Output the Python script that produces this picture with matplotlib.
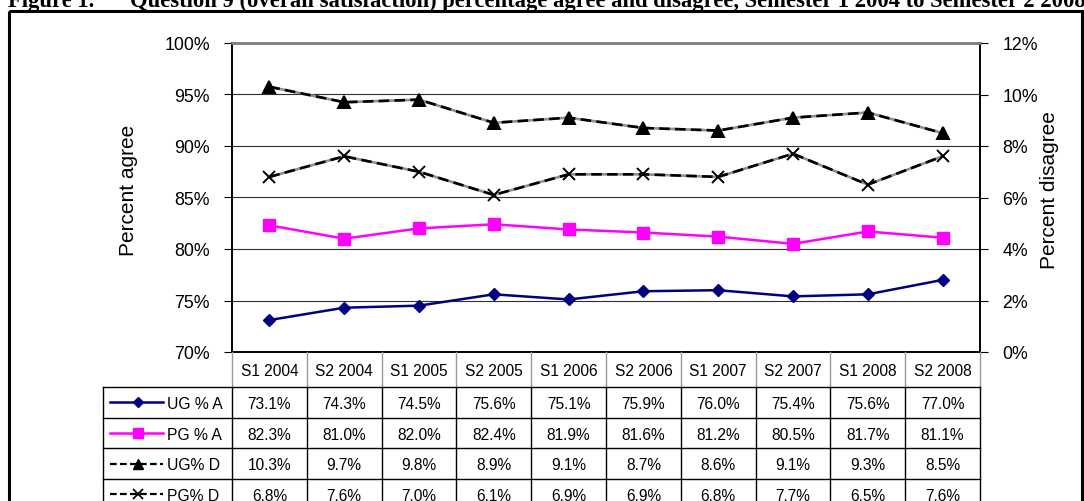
import numpy as np
import matplotlib.pyplot as plt
from matplotlib.patches import Rectangle

plt.rcParams['font.family'] = ['Liberation Sans', 'DejaVu Sans']

semesters = ['S1 2004', 'S2 2004', 'S1 2005', 'S2 2005', 'S1 2006',
             'S2 2006', 'S1 2007', 'S2 2007', 'S1 2008', 'S2 2008']
ug_agree = [73.1, 74.3, 74.5, 75.6, 75.1, 75.9, 76.0, 75.4, 75.6, 77.0]
pg_agree = [82.3, 81.0, 82.0, 82.4, 81.9, 81.6, 81.2, 80.5, 81.7, 81.1]
ug_disagree = [10.3, 9.7, 9.8, 8.9, 9.1, 8.7, 8.6, 9.1, 9.3, 8.5]
pg_disagree = [6.8, 7.6, 7.0, 6.1, 6.9, 6.9, 6.8, 7.7, 6.5, 7.6]
series_names = ['UG % A', 'PG % A', 'UG% D', 'PG% D']
left_ticks = [70, 75, 80, 85, 90, 95, 100]
right_ticks = [0, 2, 4, 6, 8, 10, 12]

W, H = 1084, 502
fig = plt.figure(figsize=(W / 100, H / 100), dpi=100)

# plot area in pixels
px0, px1, py0, py1 = 232, 980, 44, 353
ax = fig.add_axes([px0 / W, 1 - py1 / H, (px1 - px0) / W, (py1 - py0) / H])
ax2 = ax.twinx()

x = np.arange(len(semesters))
ax.plot(x, ug_agree, color='#000080', lw=1.8, marker='D', ms=6.5, zorder=5)
ax.plot(x, pg_agree, color='#FF00FF', lw=1.8, marker='s', ms=8.5, zorder=5)

for vals, mk, ms in [(ug_disagree, '^', 8.5), (pg_disagree, 'x', 8.5)]:
    ax2.plot(x, vals, color='#909090', lw=1.9, zorder=3)
    ax2.plot(x, vals, color='black', lw=1.9, ls=(0, (4, 2)), marker=mk, ms=ms,
             mew=1.4, zorder=4)

ax.set_xlim(-0.5, len(semesters) - 0.5)
ax.set_ylim(70, 100)
ax2.set_ylim(0, 12)
ax.set_yticks(left_ticks)
ax.set_yticklabels([f'{t}%' for t in left_ticks])
ax2.set_yticks(right_ticks)
ax2.set_yticklabels([f'{t}%' for t in right_ticks])
ax.set_xticks([])

ax.grid(axis='y', color='#303030', lw=0.8)
ax.set_axisbelow(True)
for a in (ax, ax2):
    a.tick_params(axis='y', labelsize=12.8, length=6, width=0.8, pad=10,
                  direction='out', colors='black')
    a.spines['top'].set_color('#808080')
    a.spines['top'].set_linewidth(1.8)
    a.spines['left'].set_linewidth(1.2)
    a.spines['right'].set_linewidth(1.2)
    a.spines['bottom'].set_linewidth(1.2)

ylab_y = (py1 - 190) / (py1 - py0)
ax.set_ylabel('Percent agree', fontsize=15)
ax.yaxis.set_label_coords((138 - px0) / (px1 - px0), ylab_y)
ax2.set_ylabel('Percent disagree', fontsize=15, rotation=90)
ax2.yaxis.set_label_coords((1040 - px0) / (px1 - px0), ylab_y)

# overlay in pixel coordinates for the data table, frame and title
ov = fig.add_axes([0, 0, 1, 1], facecolor='none')
ov.set_xlim(0, W)
ov.set_ylim(H, 0)
ov.axis('off')

ov.add_patch(Rectangle((9, 12), 1073, 504, fill=False, lw=2.2, ec='black',
                       clip_on=False))
ov.text(8, 7.5, 'Figure 1.', fontsize=16.3, fontweight='bold',
        family='Liberation Serif', va='baseline', ha='left')
ov.text(130, 7.5, 'Question 9 (overall satisfaction) percentage agree '
        'and disagree, Semester 1 2004 to Semester 2 2008',
        fontsize=16.3, fontweight='bold', family='Liberation Serif',
        va='baseline', ha='left')

cw = (px1 - px0) / len(semesters)
head_bot = 388
row_h = 30.7
tx0 = 103
rows = [ug_agree, pg_agree, ug_disagree, pg_disagree]
n = len(rows)
ybot = head_bot + n * row_h

for k in range(len(semesters) + 1):
    xk = px0 + k * cw
    ov.plot([xk, xk], [py1, head_bot], color='#999999', lw=1.0)
    ov.plot([xk, xk], [head_bot, ybot], color='black', lw=1.0)
ov.plot([tx0, tx0], [head_bot, ybot], color='black', lw=1.0)
for r in range(n + 1):
    yr = head_bot + r * row_h
    ov.plot([tx0, px1], [yr, yr], color='black', lw=1.0)

for k, lab in enumerate(semesters):
    ov.text(px0 + (k + 0.5) * cw, (py1 + head_bot) / 2 + 1, lab, ha='center',
            va='center', fontsize=11.2)

styles = [dict(color='#000080', marker='D', ms=5.5, ls='-', lw=1.8),
          dict(color='#FF00FF', marker='s', ms=7.5, ls='-', lw=1.8),
          dict(color='black', marker='^', ms=6.5, ls=(0, (3, 1.5)), lw=1.6),
          dict(color='black', marker='x', ms=6.5, ls=(0, (3, 1.5)), lw=1.6, mew=1.3)]
for r, (vals, name, st) in enumerate(zip(rows, series_names, styles)):
    yc = head_bot + (r + 0.5) * row_h
    ov.plot([110, 163], [yc, yc], **{k: v for k, v in st.items() if k not in ('marker', 'ms', 'mew')})
    ov.plot([137.5], [yc], ls='none', color=st['color'], marker=st['marker'],
            ms=st['ms'], mew=st.get('mew', 1))
    ov.text(167, yc + 1, name, ha='left', va='center', fontsize=11.3)
    for k, v in enumerate(vals):
        ov.text(px0 + (k + 0.5) * cw, yc + 1, f'{v:.1f}%', ha='center',
                va='center', fontsize=11.2)

fig.savefig('out.png', dpi=100)
